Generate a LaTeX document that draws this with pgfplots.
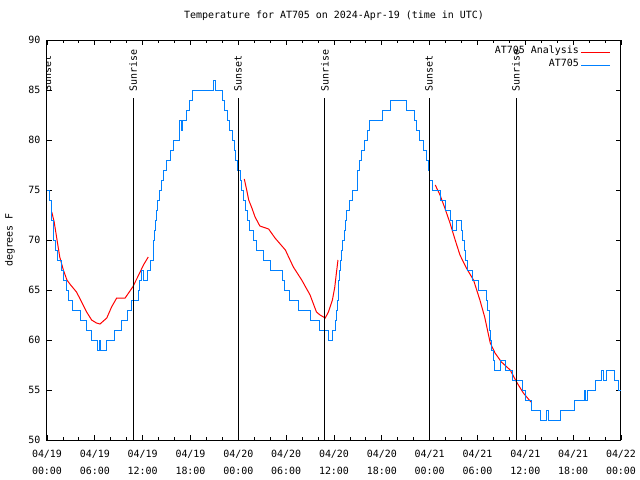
\documentclass[border=0pt]{standalone}
\usepackage{fontspec}
\setmainfont{DejaVu Sans Mono}
\usepackage{pgfplots}
\pgfplotsset{compat=1.18}
\definecolor{obsblue}{RGB}{0,128,255}
\begin{document}
\begin{tikzpicture}
\begin{axis}[
  scale only axis, width=574bp, height=400bp,
  xmin=0, xmax=72, ymin=50, ymax=90,
  font=\fontsize{10}{15}\selectfont,
  /pgf/number format/assume math mode=true,
  axis line style={line width=1bp},
  tick style={line width=0.8bp, black},
  tick align=inside,
  major tick length=5bp, minor tick length=3bp,
  xtick={0,6,...,72},
  minor x tick num=2,
  xticklabels={{04/19\\[2bp]00:00},{04/19\\[2bp]06:00},{04/19\\[2bp]12:00},{04/19\\[2bp]18:00},{04/20\\[2bp]00:00},{04/20\\[2bp]06:00},{04/20\\[2bp]12:00},{04/20\\[2bp]18:00},{04/21\\[2bp]00:00},{04/21\\[2bp]06:00},{04/21\\[2bp]12:00},{04/21\\[2bp]18:00},{04/22\\[2bp]00:00}},
  xticklabel style={align=center, yshift=-7bp},
  ytick={50,55,...,90},
  yticklabel style={xshift=-3bp},
  title={Temperature for AT705 on 2024-Apr-19 (time in UTC)},
  title style={at={(0.5,1)}, anchor=base, yshift=16bp},
  ylabel={degrees F},
  every axis y label/.style={at={(rel axis cs:0,0.5)}, xshift=-37bp, rotate=90, anchor=center},
  legend plot pos=right,
  legend cell align=right,
  legend image code/.code={\draw[#1] (0bp,0bp) -- (29bp,0bp);},
  legend style={draw=none, fill=none, at={(rel axis cs:1,1)}, anchor=north east, xshift=-10bp, yshift=-6bp, inner sep=0pt, row sep=0pt, nodes={inner ysep=0pt, text height=7.5bp, text depth=5.5bp}},
  unbounded coords=jump,
]
\addplot[red, line width=1bp] coordinates {
(0.6,72.8) (0.9,71.8) (1.2,70.3) (1.6,68.3) (2.05,67) (2.5,66) (2.97,65.5) (3.7,64.8) (4.35,63.8) (4.97,62.8) (5.6,62) (6.2,61.7) (6.65,61.6) (7.5,62.2) (8.1,63.3) (8.74,64.2) (9.8,64.2) (10.75,65.3) (11.5,66.5) (12.1,67.5) (12.7,68.3)
(18,nan)
(24.75,76.1) (25.05,75) (25.3,74) (25.7,73.2) (26.1,72.3) (26.7,71.4) (27.8,71.1) (28.6,70.2) (29.9,69) (30.9,67.3) (31.95,66) (33.0,64.5) (33.8,62.8) (34.25,62.5) (34.9,62.2) (35.3,62.8) (35.8,64) (36.1,65.3) (36.3,66.7) (36.5,68)
(42,nan)
(48.7,75.5) (49.3,74.5) (49.9,73.2) (50.55,71.7) (51.2,70) (51.8,68.5) (52.6,67.2) (53.5,66) (54.3,64) (54.9,62.3) (55.6,59.7) (56.2,58.7) (57.0,57.8) (58.1,57) (58.9,55.8) (59.75,54.7) (60.7,53.8)
};
\addlegendentry{AT705 Analysis}
\addplot[obsblue, line width=1bp, const plot mark left] coordinates {
(0,75) (0.35,74) (0.55,72) (0.8,70) (1.05,69) (1.3,68) (1.85,67) (2.1,66) (2.45,65) (2.75,64) (3.2,63) (4.2,62) (4.9,61) (5.6,60) (6.35,59) (6.6,60) (6.75,59) (7.5,60) (8.5,61) (9.4,62) (10.1,63) (10.6,64) (11.45,65) (11.6,66) (11.8,67) (12.05,66) (12.6,67) (13.0,68) (13.35,70) (13.45,71) (13.6,72) (13.75,73) (13.9,74) (14.1,75) (14.3,76) (14.6,77) (15.0,78) (15.5,79) (15.9,80) (16.65,82) (16.85,81) (17.0,82) (17.5,83) (17.9,84) (18.3,85) (20.9,86) (21.1,85) (22.05,84) (22.3,83) (22.6,82) (22.9,81) (23.3,80) (23.5,79) (23.7,78) (23.9,77)
(24.3,76) (24.45,75) (24.7,74) (24.9,73) (25.2,72) (25.45,71) (25.95,70) (26.3,69) (27.2,68) (28.0,67) (29.6,66) (29.75,65) (30.4,64) (31.55,63) (33.1,62) (34.15,61) (35.35,60) (35.8,61) (36.2,62) (36.35,63) (36.45,64) (36.55,65) (36.6,66) (36.7,67) (36.8,68) (36.95,69) (37.1,70) (37.3,71) (37.45,72) (37.6,73) (38.0,74) (38.3,75) (38.9,76) (39.0,77) (39.2,78) (39.4,79) (39.85,80) (40.2,81) (40.5,82) (42.1,83) (43.1,84) (45.1,83) (46.1,82) (46.4,81) (46.7,80) (47.2,79) (47.6,78) (47.85,77)
(48.0,76) (48.4,75) (49.3,74) (50.0,73) (50.6,72) (50.85,71) (51.4,72) (51.95,71) (52.15,70) (52.35,69) (52.55,68) (52.75,67) (53.4,66) (54.1,65) (55.1,64) (55.3,63) (55.45,62) (55.55,61) (55.65,60) (55.8,59) (55.95,58) (56.1,57) (56.85,58) (57.5,57) (58.35,56) (59.6,55) (60.0,54) (60.75,53) (61.9,52) (62.6,53) (62.85,52) (64.45,53) (66.15,54) (67.4,55) (67.6,54) (67.8,55) (68.8,56) (69.5,57) (69.75,56) (70.2,57) (71.15,56) (71.7,55) (72,55)
};
\addlegendentry{AT705}
\addplot[black, line width=1bp, forget plot] coordinates {(0,50) (0,84.2) (0,nan) (10.8,50) (10.8,84.2) (10.8,nan) (23.96,50) (23.96,84.2) (23.96,nan) (34.87,50) (34.87,84.2) (34.87,nan) (47.92,50) (47.92,84.2) (47.92,nan) (58.83,50) (58.83,84.2)};
\node[rotate=90, anchor=west, inner sep=0pt] at (axis cs:0.05,84.8) {Sunset};
\node[rotate=90, anchor=west, inner sep=0pt] at (axis cs:10.8,84.8) {Sunrise};
\node[rotate=90, anchor=west, inner sep=0pt] at (axis cs:23.96,84.8) {Sunset};
\node[rotate=90, anchor=west, inner sep=0pt] at (axis cs:34.87,84.8) {Sunrise};
\node[rotate=90, anchor=west, inner sep=0pt] at (axis cs:47.92,84.8) {Sunset};
\node[rotate=90, anchor=west, inner sep=0pt] at (axis cs:58.83,84.8) {Sunrise};
\coordinate (bbo) at (rel axis cs:0,0);
\end{axis}
\path (bbo) ++(-47bp,-40bp) rectangle ++(640bp,480bp);
\end{tikzpicture}
\end{document}
